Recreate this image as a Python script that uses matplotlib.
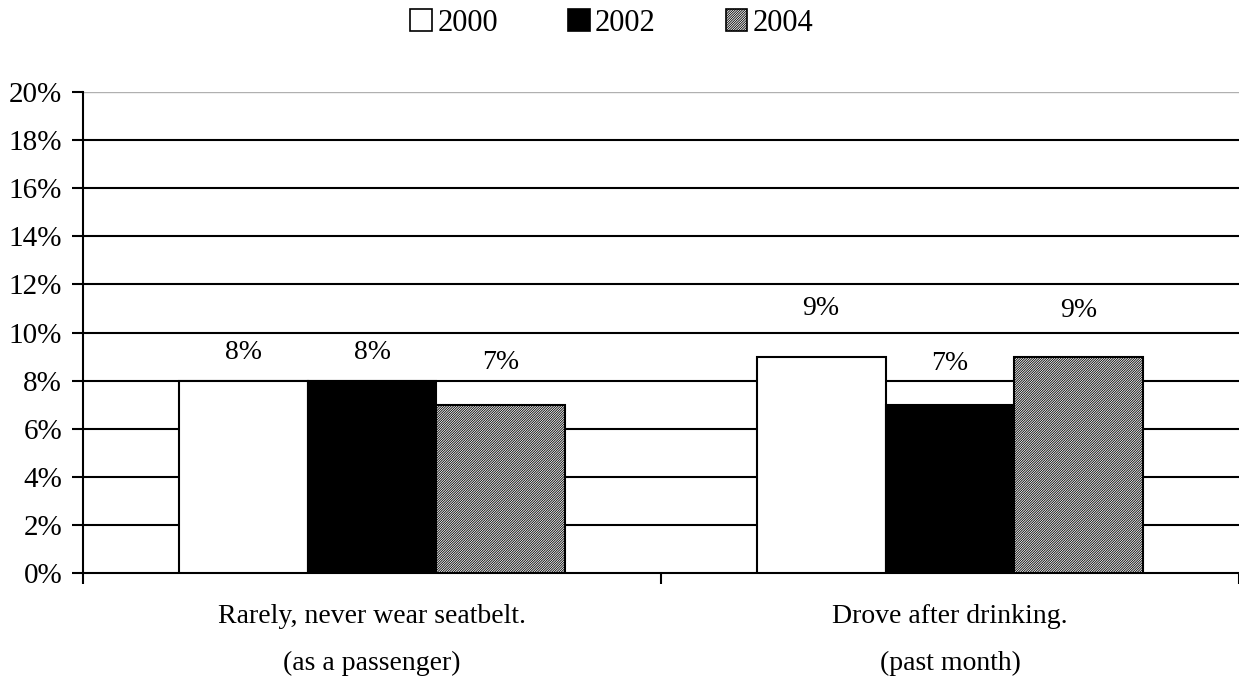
import matplotlib.pyplot as plt
import numpy as np
from matplotlib.patches import Patch

plt.rcParams['font.family'] = ['Liberation Serif', 'DejaVu Serif']
plt.rcParams['hatch.linewidth'] = 0.6

categories = ["Rarely, never wear seatbelt.\n(as a passenger)",
              "Drove after drinking.\n(past month)"]
years = ["2000", "2002", "2004"]
values = {
    "2000": [8, 9],
    "2002": [8, 7],
    "2004": [7, 9],
}
# label heights (percent units)
label_y = {
    "2000": [9.17, 11.0],
    "2002": [9.17, 8.7],
    "2004": [8.77, 10.9],
}

fig = plt.figure(figsize=(12.39, 6.77), dpi=100)
ax = fig.add_axes([0.067, 0.1536, 0.933, 0.7105])

x = np.arange(len(categories))
w = 0.223
styles = {
    "2000": dict(facecolor="white", hatch=None),
    "2002": dict(facecolor="black", hatch=None),
    "2004": dict(facecolor="white", hatch="/" * 14),
}
for i, yr in enumerate(years):
    pos = x + (i - 1) * w
    ax.bar(pos, values[yr], w, edgecolor="black", linewidth=1.5, zorder=3, **styles[yr])
    for p, v, ly in zip(pos, values[yr], label_y[yr]):
        ax.text(p, ly, "%d%%" % v, ha="center", va="center", fontsize=20)

ax.set_xlim(-0.5, 1.5)
ax.set_ylim(0, 20)
yt = np.arange(0, 21, 2)
ax.set_yticks(yt)
ax.set_yticklabels(["%d%%" % t for t in yt], fontsize=21)
for t in yt[1:-1]:
    ax.axhline(t, color="black", lw=1.5, zorder=1)
ax.axhline(20, color="#b0b0b0", lw=1, zorder=1)

ax.set_xticks([-0.5, 0.5, 1.5])
ax.set_xticklabels([])
ax.set_xticks(x, minor=True)
ax.set_xticklabels(categories, minor=True, fontsize=20, linespacing=2.15)
ax.tick_params(axis="x", which="minor", length=0, pad=22)
ax.tick_params(axis="x", which="major", length=8, width=1.5, direction="out")
ax.tick_params(axis="y", length=8, width=1.5, direction="out", pad=7)

for s in ["top", "right"]:
    ax.spines[s].set_visible(False)
for s in ["left", "bottom"]:
    ax.spines[s].set_linewidth(1.5)

handles = [Patch(label=yr, edgecolor="black", linewidth=1.2, **styles[yr]) for yr in years]
fig.legend(handles=handles, loc="upper center", bbox_to_anchor=(0.494, 1.028), ncol=3,
           frameon=False, fontsize=22, handlelength=0.7, handleheight=0.7,
           handletextpad=0.18, columnspacing=2.3)

fig.savefig("out.png", dpi=100)
